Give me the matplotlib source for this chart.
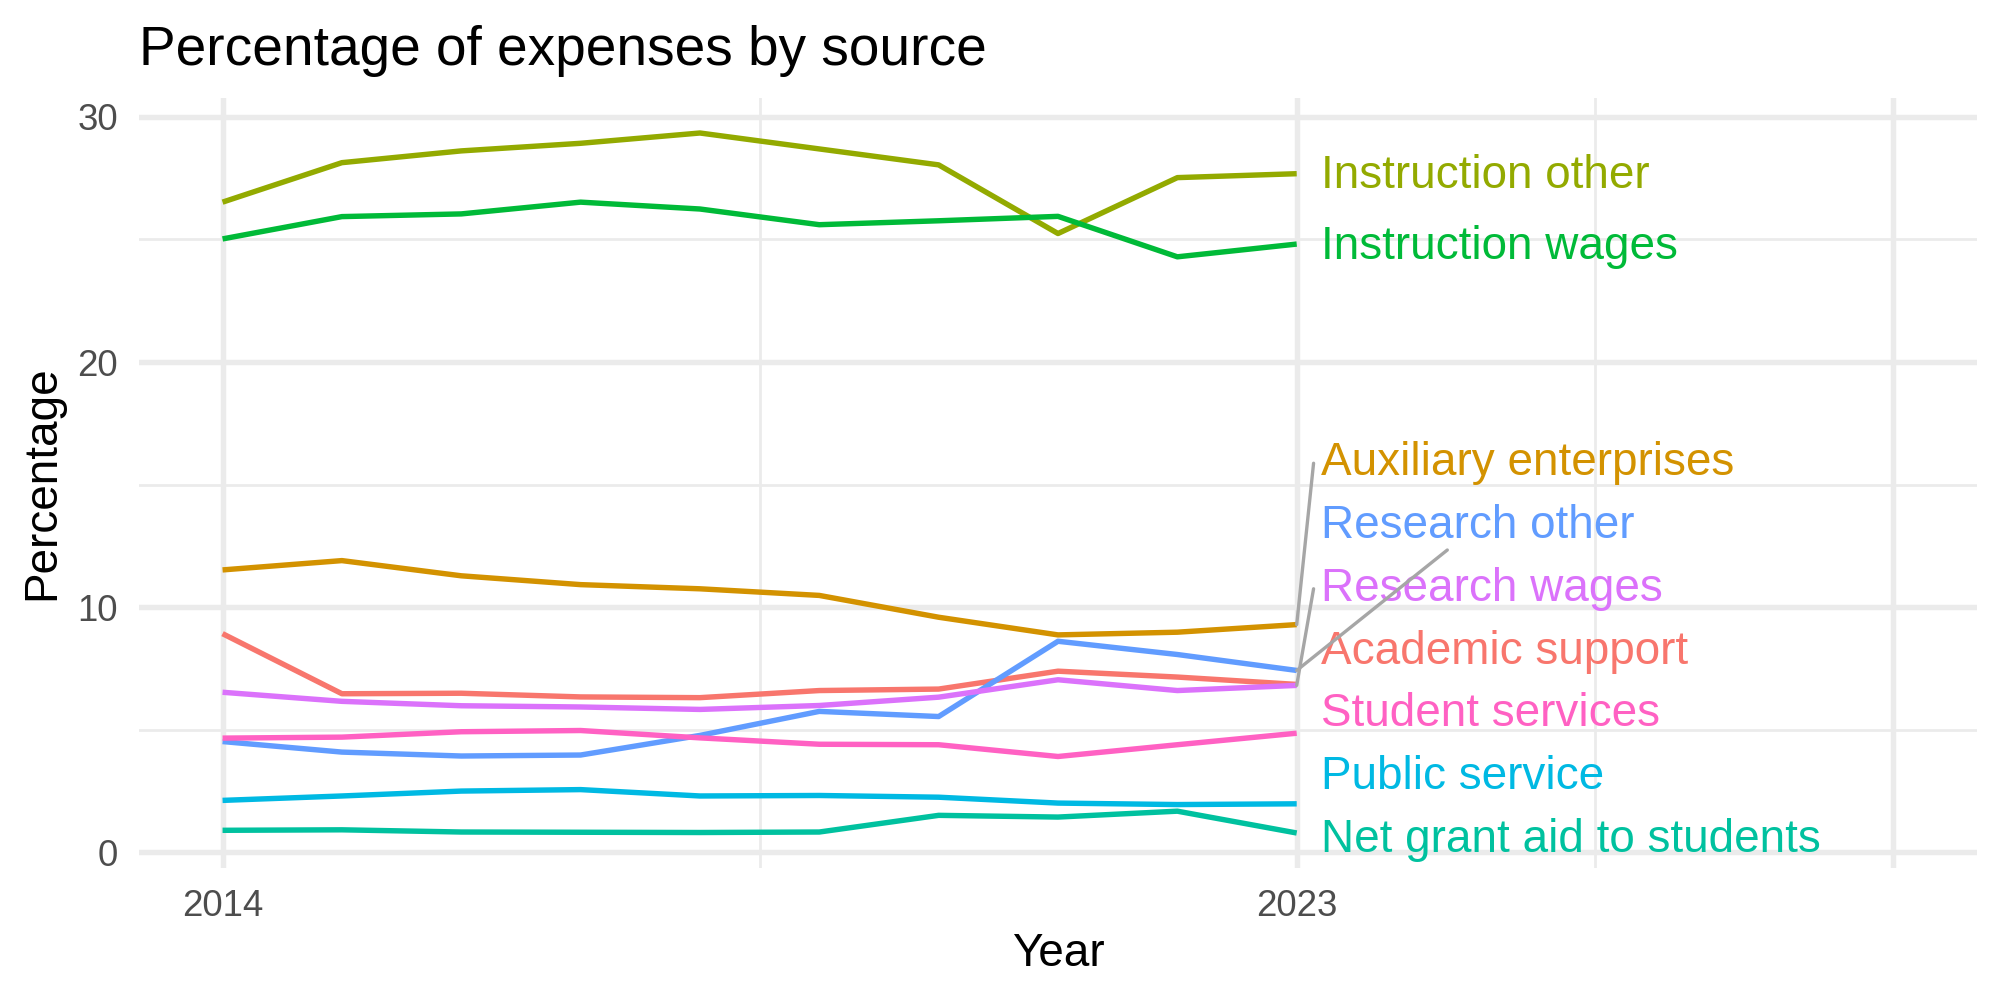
import matplotlib.pyplot as plt
import matplotlib.transforms as mtransforms
import numpy as np

plt.rcParams['font.family'] = ['Liberation Sans', 'DejaVu Sans']

# data (percent of expenses)
years = np.arange(2014, 2024)
categories = ['Academic support', 'Auxiliary enterprises', 'Instruction other',
              'Instruction wages', 'Net grant aid to students', 'Public service',
              'Research other', 'Research wages', 'Student services']
academic_support = [8.92, 6.47, 6.49, 6.34, 6.31, 6.60, 6.66, 7.39, 7.15, 6.85]
auxiliary_enterprises = [11.52, 11.90, 11.28, 10.92, 10.75, 10.48, 9.59, 8.87, 8.98, 9.29]
instruction_other = [26.52, 28.13, 28.61, 28.92, 29.34, 28.69, 28.04, 25.24, 27.52, 27.68]
instruction_wages = [25.02, 25.93, 26.04, 26.52, 26.24, 25.60, 25.76, 25.94, 24.29, 24.81]
net_grant_aid = [0.90, 0.92, 0.83, 0.82, 0.81, 0.83, 1.51, 1.44, 1.68, 0.79]
public_service = [2.12, 2.30, 2.50, 2.56, 2.30, 2.32, 2.25, 2.01, 1.95, 1.98]
research_other = [4.52, 4.09, 3.93, 3.97, 4.77, 5.75, 5.54, 8.61, 8.07, 7.42]
research_wages = [6.53, 6.16, 5.98, 5.93, 5.83, 5.99, 6.33, 7.04, 6.60, 6.81]
student_services = [4.66, 4.70, 4.92, 4.97, 4.67, 4.41, 4.39, 3.91, 4.39, 4.86]

series = [academic_support, auxiliary_enterprises, instruction_other, instruction_wages,
          net_grant_aid, public_service, research_other, research_wages, student_services]

# ggplot hue palette, 9 levels
colors = ['#F8766D', '#D39200', '#93AA00', '#00BA38', '#00C19F',
          '#00B9E3', '#619CFF', '#DB72FB', '#FF61C3']

# order of the repelled labels, bottom to top
label_order = ['Net grant aid to students', 'Public service', 'Student services',
               'Academic support', 'Research wages', 'Research other',
               'Auxiliary enterprises', 'Instruction wages', 'Instruction other']
seg_side = {'Research other': 'bottom'}

fig = plt.figure(figsize=(20 / 3, 10 / 3), dpi=300)
ax = fig.add_axes([0.0695, 0.132, 0.919, 0.770])

for vals, col in zip(series, colors):
    ax.plot(years, vals, color=col, lw=1.3, solid_capstyle='butt', zorder=3)

# scales with ggplot-like 5% expansion
x_lo, x_hi = years[0], 2028
xpad = 0.05 * (x_hi - x_lo)
ax.set_xlim(x_lo - xpad, x_hi + xpad)
all_vals = np.concatenate([np.asarray(s) for s in series])
ypad = 0.05 * (all_vals.max() - all_vals.min())
y_lo, y_hi = all_vals.min() - ypad, all_vals.max() + ypad
ax.set_ylim(y_lo, y_hi)

ax.set_xticks([2014, 2023, 2028])
ax.set_xticklabels(['2014', '2023', ''])
ax.set_xticks([2018.5, 2025.5], minor=True)
ax.set_yticks([0, 10, 20, 30])
ax.set_yticks([5, 15, 25], minor=True)
ax.tick_params(which='both', length=0)
ax.tick_params(labelsize=8.8, labelcolor='#4D4D4D', pad=5)
ax.grid(which='major', color='#EBEBEB', lw=1.3)
ax.grid(which='minor', color='#EBEBEB', lw=0.65)
ax.set_axisbelow(True)
for sp in ax.spines.values():
    sp.set_visible(False)

ax.set_xlabel('Year', fontsize=11, labelpad=2)
ax.set_ylabel('Percentage', fontsize=11, labelpad=3.2)
fig.text(0.0695, 0.935, 'Percentage of expenses by source', fontsize=13.2,
         ha='left', va='baseline')

# simple repel: push overlapping labels apart, keep them inside the panel
gap = 2.56
end_val = {c: s[-1] for c, s in zip(categories, series)}
ys = np.array([end_val[c] for c in label_order], dtype=float)
lo_bound = y_lo + 1.25
hi_bound = y_hi - 1.25
for _ in range(500):
    for i in range(1, len(ys)):
        overlap = gap - (ys[i] - ys[i - 1])
        if overlap > 0:
            ys[i - 1] -= overlap / 2
            ys[i] += overlap / 2
    ys = np.clip(ys, lo_bound, hi_bound)
label_y = dict(zip(label_order, ys))

label_x = years[-1] + 0.2
text_tr = mtransforms.offset_copy(ax.transData, fig=fig, y=-0.6, units='points')
texts = {}
for c, col in zip(categories, colors):
    texts[c] = ax.text(label_x, label_y[c], c, color=col, fontsize=11,
                       ha='left', va='center', zorder=5, transform=text_tr)

# connector segments for labels that moved far from their line end
fig.canvas.draw()
renderer = fig.canvas.get_renderer()
inv = ax.transData.inverted()
for c in categories:
    if abs(label_y[c] - end_val[c]) < 2:
        continue
    bb = texts[c].get_window_extent(renderer)
    px, py = ax.transData.transform((years[-1], end_val[c]))
    if seg_side.get(c, 'left') == 'bottom':
        # head toward the label centre, stop at the bottom of its box
        cx, cy = (bb.x0 + bb.x1) / 2, (bb.y0 + bb.y1) / 2
        yb = bb.y0 - 2
        t = (yb - py) / (cy - py)
        p = (px + t * (cx - px), yb)
    else:
        p = (bb.x0 - 7, (bb.y0 + bb.y1) / 2)
    ex, ey = inv.transform(p)
    ax.plot([years[-1], ex], [end_val[c], ey], color='#A6A6A6', lw=0.8,
            solid_capstyle='round', zorder=6)

fig.savefig('out.png', dpi=300, facecolor='white')
